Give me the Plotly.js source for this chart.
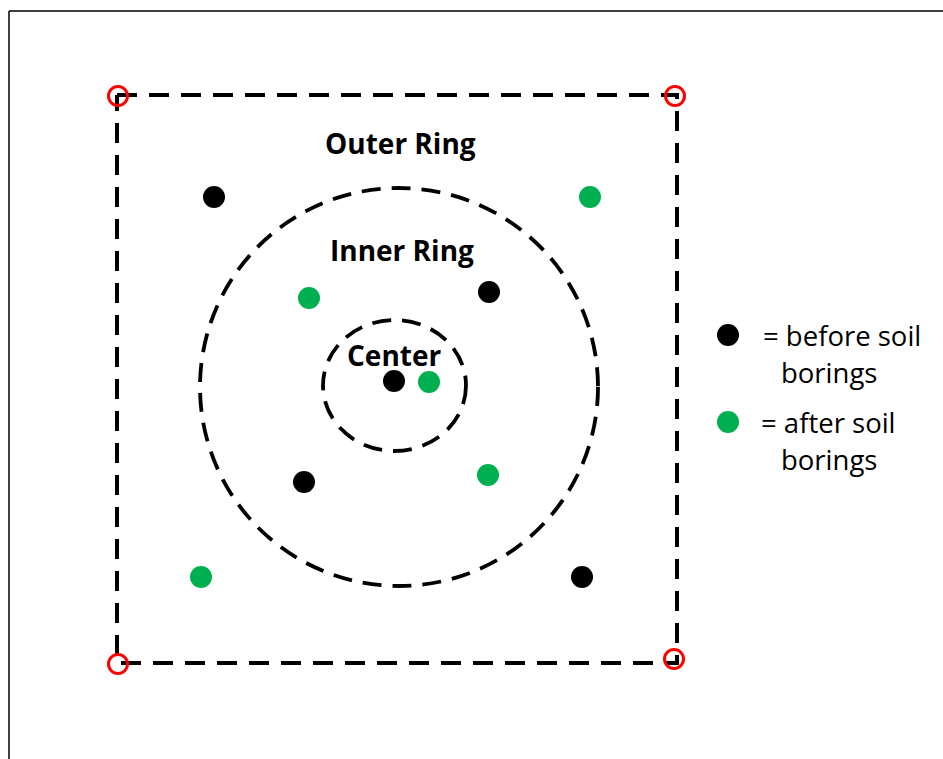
<!DOCTYPE html>
<html>
<head>
<meta charset="utf-8">
<script src="https://cdn.plot.ly/plotly-3.0.1.min.js"></script>
<style>html,body{margin:0;padding:0;background:#fff;}#chart{width:943px;height:759px;}</style>
</head>
<body>
<div id="chart"></div>
<script>
// Diagram data (in page-like coordinate units, y grows downward)
const beforeX = [214, 489, 394, 304, 582];
const beforeY = [197, 292, 381, 482, 577];
const afterX = [590, 309, 429, 488, 201];
const afterY = [197, 298, 382, 475, 577];
const cornerX = [118, 675, 118, 674];
const cornerY = [96, 96, 664, 659];
const plotX = [117, 677, 677, 117, 117];
const plotY = [95, 95, 663, 663, 95];
const ringNames = ["Outer Ring", "Inner Ring", "Center"];
const ringCX = [399, 394.5];
const ringCY = [387, 385.5];
const ringRX = [199, 71.5];
const ringRY = [199, 65.5];
const labelX = [400, 402, 394];
const labelY = [143, 250, 355];
const legendLines = ["= before soil", "borings", "= after soil", "borings"];
const legendLineX = [842, 829, 828, 829];
const legendLineY = [335, 372, 422, 459];
const legendDotX = [728, 728];
const legendDotY = [335, 422];

const FONT = "Open Sans, Liberation Sans, sans-serif";

const traces = [
  {x: plotX, y: plotY, mode: "lines", line: {color: "#000", width: 4, dash: "20px,12px"}, hoverinfo: "skip"},
  {x: beforeX, y: beforeY, mode: "markers", marker: {color: "#000", size: 22}, hoverinfo: "skip"},
  {x: afterX, y: afterY, mode: "markers", marker: {color: "#00b050", size: 22}, hoverinfo: "skip"},
  {x: cornerX, y: cornerY, mode: "markers", marker: {color: "#ff0000", size: 19, symbol: "circle-open", line: {color: "#ff0000", width: 3}}, hoverinfo: "skip"},
  {x: [legendDotX[0]], y: [legendDotY[0]], mode: "markers", marker: {color: "#000", size: 22}, hoverinfo: "skip"},
  {x: [legendDotX[1]], y: [legendDotY[1]], mode: "markers", marker: {color: "#00b050", size: 22}, hoverinfo: "skip"}
];

const shapes = [
  {type: "line", xref: "x", yref: "y", x0: 9, x1: 943, y0: 11, y1: 11, line: {color: "#000", width: 1.5}},
  {type: "line", xref: "x", yref: "y", x0: 9, x1: 9, y0: 11, y1: 759, line: {color: "#000", width: 1.5}}
];
for (let i = 0; i < ringCX.length; i++) {
  shapes.push({type: "circle", xref: "x", yref: "y",
    x0: ringCX[i] - ringRX[i], x1: ringCX[i] + ringRX[i],
    y0: ringCY[i] - ringRY[i], y1: ringCY[i] + ringRY[i],
    line: {color: "#000", width: 3.8, dash: "19px,11px"}, layer: "below"});
}

const annotations = [];
for (let i = 0; i < ringNames.length; i++) {
  annotations.push({x: labelX[i], y: labelY[i], xref: "x", yref: "y", text: "<b>" + ringNames[i] + "</b>",
    showarrow: false, font: {family: FONT, size: 28, color: "#000"}, xanchor: "center", yanchor: "middle"});
}
for (let i = 0; i < legendLines.length; i++) {
  annotations.push({x: legendLineX[i], y: legendLineY[i], xref: "x", yref: "y", text: legendLines[i],
    showarrow: false, font: {family: FONT, size: 27.5, color: "#000"}, xanchor: "center", yanchor: "middle"});
}

const layout = {
  width: 943, height: 759,
  margin: {l: 0, r: 0, t: 0, b: 0},
  paper_bgcolor: "#fff", plot_bgcolor: "#fff",
  showlegend: false,
  xaxis: {range: [0, 943], visible: false, fixedrange: true},
  yaxis: {range: [759, 0], visible: false, fixedrange: true},
  shapes: shapes,
  annotations: annotations
};

Plotly.newPlot("chart", traces, layout, {displayModeBar: false, staticPlot: true});
</script>
</body>
</html>
